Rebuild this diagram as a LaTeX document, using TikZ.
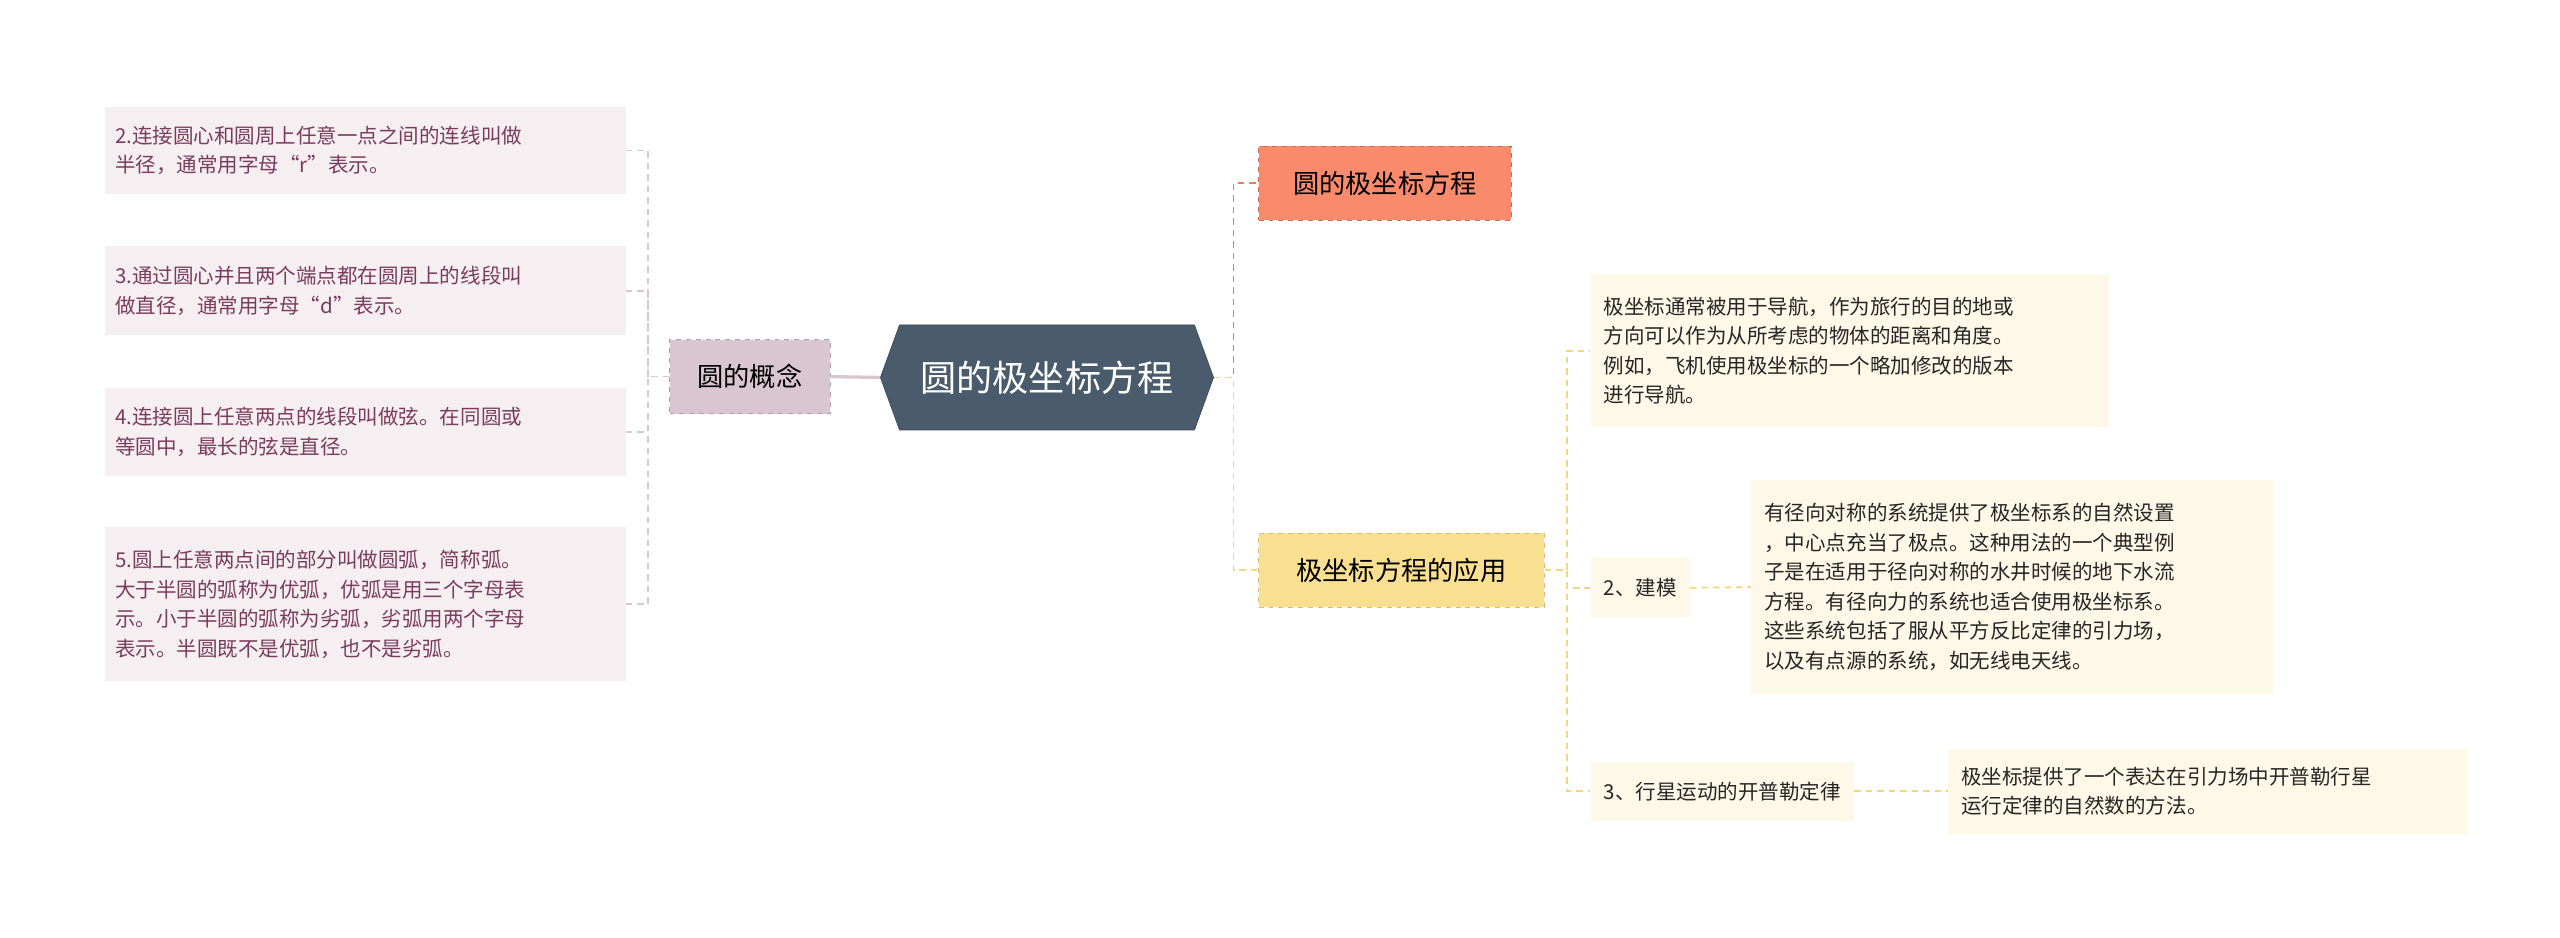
\documentclass[tikz,border=0pt]{standalone}
\usepackage{fontspec}
\setmainfont{Noto Sans CJK SC}
\XeTeXlinebreaklocale "zh"
\usetikzlibrary{shapes.symbols}
\definecolor{hexc}{HTML}{4A5B6B}
\definecolor{lilac}{HTML}{D9C6D0}
\definecolor{lilacleaf}{HTML}{F6EFF2}
\definecolor{lilactext}{HTML}{7A3C5C}
\definecolor{redc}{HTML}{F98B6C}
\definecolor{yelc}{HTML}{F9DF90}
\definecolor{yelleaf}{HTML}{FEF8E8}
\definecolor{redline}{HTML}{EE7A5C}
\definecolor{yelline}{HTML}{F2D77E}
\tikzset{
 x=1pt,y=-1pt,
 dsh/.style={dash pattern=on 4pt off 3pt, line width=1pt},
 lleaf/.style={fill=lilacleaf, text=lilactext, font=\fontsize{12.5}{18}\selectfont, align=left, text width=305pt, inner xsep=6pt, inner ysep=7pt, anchor=north west},
 rleaf/.style={fill=yelleaf, text=black!85, font=\fontsize{12.5}{18}\selectfont, align=left, inner xsep=8pt, inner ysep=7pt, anchor=north west},
 mainb/.style={draw, dashed, font=\fontsize{16}{20}\selectfont, inner sep=0pt, minimum height=45pt},
}
\begin{document}
\begin{tikzpicture}
\useasboundingbox (0,0) rectangle (1560,571);
\node[signal, signal to=west and east, signal pointer angle=140, fill=hexc, draw=hexc!80!black, text=white, minimum width=203pt, minimum height=64pt, inner sep=0pt, font=\fontsize{22}{26}\selectfont] (root) at (638,230) {圆的极坐标方程};
\node[mainb, fill=lilac, draw=lilac!80!black, minimum width=98pt] (gn) at (457,229.5) {圆的概念};
\node[mainb, fill=redc, draw=redc!80!black, minimum width=154pt] (r1) at (844,111.5) {圆的极坐标方程};
\node[mainb, fill=yelc, draw=yelc!85!black, minimum width=174pt] (r2) at (854,347.5) {极坐标方程的应用};
% left leaves
\node[lleaf, minimum height=53pt] (l1) at (64,65) {2.连接圆心和圆周上任意一点之间的连线叫做\\半径，通常用字母“r”表示。};
\node[lleaf, minimum height=54pt] (l2) at (64,150) {3.通过圆心并且两个端点都在圆周上的线段叫\\做直径，通常用字母“d”表示。};
\node[lleaf, minimum height=54pt] (l3) at (64,236) {4.连接圆上任意两点的线段叫做弦。在同圆或\\等圆中，最长的弦是直径。};
\node[lleaf, minimum height=94pt] (l4) at (64,321) {5.圆上任意两点间的部分叫做圆弧，简称弧。\\大于半圆的弧称为优弧，优弧是用三个字母表\\示。小于半圆的弧称为劣弧，劣弧用两个字母\\表示。半圆既不是优弧，也不是劣弧。};
% right leaves
\node[rleaf, text width=300pt, minimum height=93pt] (a1) at (969,167) {极坐标通常被用于导航，作为旅行的目的地或\\方向可以作为从所考虑的物体的距离和角度。\\例如，飞机使用极坐标的一个略加修改的版本\\进行导航。};
\node[rleaf, minimum height=36pt] (a2) at (969,340) {2、建模};
\node[rleaf, text width=302pt, minimum height=131pt] (b) at (1067,292) {有径向对称的系统提供了极坐标系的自然设置\\，中心点充当了极点。这种用法的一个典型例\\子是在适用于径向对称的水井时候的地下水流\\方程。有径向力的系统也适合使用极坐标系。\\这些系统包括了服从平方反比定律的引力场，\\以及有点源的系统，如无线电天线。};
\node[rleaf, minimum height=36pt] (a3) at (969,464) {3、行星运动的开普勒定律};
\node[rleaf, text width=300pt, minimum height=52pt] (c) at (1187,456) {极坐标提供了一个表达在引力场中开普勒行星\\运行定律的自然数的方法。};
% connectors
\draw[line width=2pt, lilac] (root.west) -- (gn.east);
\draw[dsh, redline] (root.east) -- ++(12,0) |- (r1.west);
\draw[dsh, yelline] (root.east) -- ++(12,0) |- (r2.west);
\draw[dsh, lilac] (gn.west) -- (395,229.5);
\foreach \n in {l1,l2,l3,l4} \draw[dsh, lilac] (\n.east) -- (395,0 |- \n.east) -- (395,229.5);
\foreach \n in {a1,a2,a3} \draw[dsh, yelline] (r2.east) -- (955,347.5) |- (\n.west);
\draw[dsh, yelline] (a2.east) -- (b.west);
\draw[dsh, yelline] (a3.east) -- (c.west);
\end{tikzpicture}
\end{document}
